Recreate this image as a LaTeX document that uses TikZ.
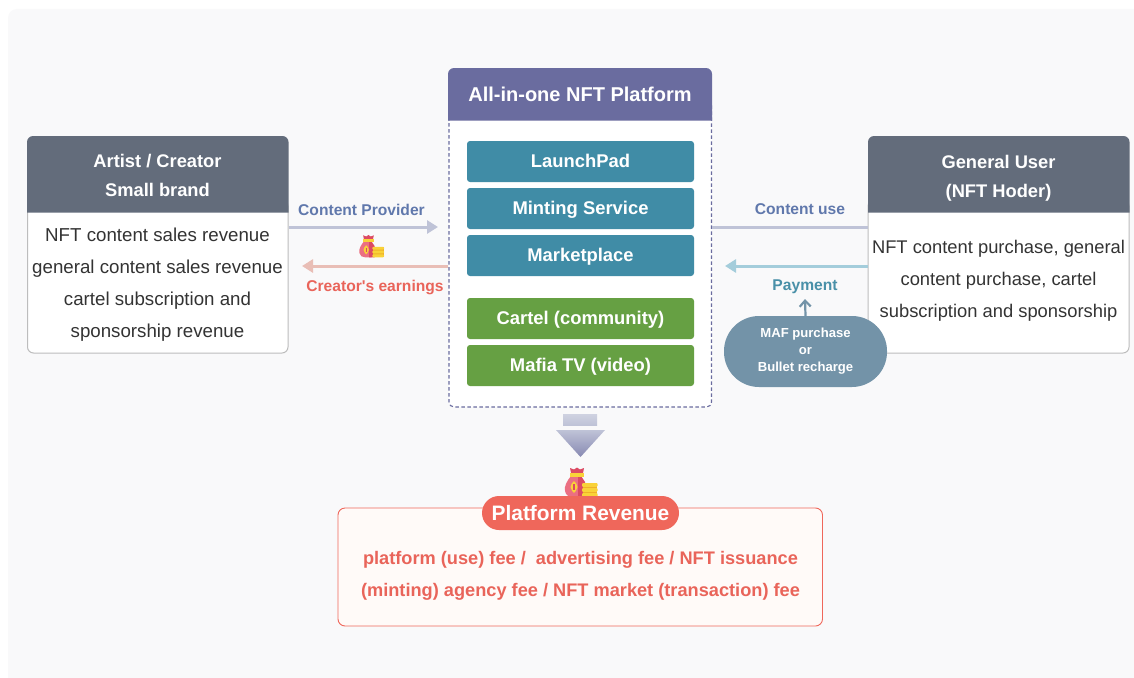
\documentclass[tikz,border=0pt]{standalone}
\usepackage{fontspec}
\setmainfont{Liberation Sans}
\newfontfamily\plainf{Liberation Sans}
\usetikzlibrary{arrows.meta,positioning,calc,shapes.geometric}
\definecolor{bgc}{HTML}{F9F9FA}
\definecolor{headgray}{HTML}{636C7B}
\definecolor{headpurple}{HTML}{6A6C9F}
\definecolor{teal}{HTML}{408CA6}
\definecolor{grn}{HTML}{66A043}
\definecolor{pillc}{HTML}{7393A8}
\definecolor{coral}{HTML}{EF675B}
\definecolor{coraltxt}{HTML}{E9645A}
\definecolor{revfill}{HTML}{FFFAF8}
\definecolor{bluetxt}{HTML}{6078AC}
\definecolor{tealtxt}{HTML}{4990A8}
\definecolor{edge}{HTML}{BDBDBD}
\definecolor{arrowpurple}{HTML}{BFC3D7}
\definecolor{arrowred}{HTML}{E9BEB6}
\definecolor{arrowblue}{HTML}{A4CDDB}
\definecolor{dashc}{HTML}{6A6C9F}
\definecolor{txt}{HTML}{333333}
\definecolor{bagred}{HTML}{EB6F82}
\definecolor{bagdark}{HTML}{DC4A63}
\definecolor{coin}{HTML}{F9D238}
\definecolor{coindark}{HTML}{EFB02A}
\newcommand{\headshape}[5]{\fill[#1] (#2,#5) -- (#2,#3+6) .. controls (#2,#3+2.7) and (#2+2.7,#3) .. (#2+6,#3) -- (#4-6,#3) .. controls (#4-2.7,#3) and (#4,#3+2.7) .. (#4,#3+6) -- (#4,#5) -- cycle;}
\tikzset{
  x=1pt,y=-1pt,
  bodytxt/.style={font=\fontsize{18.7}{32}\selectfont,text=txt,align=center},
  headtxt/.style={font=\fontsize{18.3}{29}\selectfont\bfseries,text=white,align=center},
  modbox/.style={rounded corners=3pt,minimum width=227pt,minimum height=41pt,inner sep=0pt,text=white,text height=12.5pt,text depth=0pt,font=\fontsize{18.4}{20}\selectfont\bfseries},
  tealbox/.style={modbox,fill=teal},
  greenbox/.style={modbox,fill=grn},
  flowlabel/.style={font=\fontsize{15.6}{17}\selectfont\plainf\bfseries,inner sep=0pt},
  thickflow/.style={line width=3pt,-{Triangle[length=11pt,width=13pt]}},
  pics/moneybag/.style={code={
    \fill[bagred] (-10,-6) .. controls (-14,-1) and (-17,4) .. (-16,9) .. controls (-15.5,13) and (-12,15) .. (-8,15) -- (0,15) -- (0,-6) -- cycle;
    \fill[bagdark] (-3,-6) -- (0,-6) -- (4,0) -- (4,15) -- (-3,15) -- cycle;
    \fill[bagdark] (-11,-14) -- (-7,-12.5) -- (-4,-14.5) -- (-1,-12.5) -- (3,-14) -- (2,-9) -- (-10,-9) -- cycle;
    \fill[coin] (-11,-9) rectangle (3,-5.5);
    \fill[coin] (-7,-1) .. controls (-5,0) and (-4,3) .. (-3.5,5) .. controls (-4,8) and (-6,10) .. (-7,11) .. controls (-8,10) and (-10,8) .. (-10.5,5) .. controls (-10,3) and (-9,0) .. (-7,-1) -- cycle;
    \fill[bagdark] (-7.7,2) rectangle (-6.3,8);
    \fill[coindark] (2,1) rectangle (16,15);
    \foreach \cy in {1,6,11} \fill[coin,rounded corners=1pt] (1,\cy) rectangle (16.5,\cy+3.8);
  }}
}
\begin{document}
\begin{tikzpicture}
\useasboundingbox (0,0) rectangle (1134,677);
\fill[white] (0,0) rectangle (1134,677);
\fill[bgc,rounded corners=9pt] (8,9) rectangle (1145,690);

% Left box
\draw[edge,line width=1pt,fill=white,rounded corners=6pt] (27.5,200) rectangle (288,353);
\headshape{headgray}{27}{136}{288.5}{212.5}
\node[headtxt] (lefthead) at (157.5,175.5) {Artist / Creator\\Small brand};
\node[bodytxt] (leftbody) at (157.5,285) {NFT content sales revenue\\general content sales revenue\\cartel subscription and\\sponsorship revenue};
\coordinate (leftbox) at (288.5,227);

% Right box
\draw[edge,line width=1pt,fill=white,rounded corners=6pt] (868,200) rectangle (1129,353);
\headshape{headgray}{868}{136}{1129.5}{212.5}
\node[headtxt] (righthead) at (998.5,178) {General User\\(NFT Hoder)};
\node[bodytxt,font=\fontsize{18.35}{32}\selectfont] (rightbody) at (998.5,281) {NFT content purchase, general\\content purchase, cartel\\subscription and sponsorship};

% Centre
\draw[dashc,fill=white,line width=1.1pt,dash pattern=on 3.5pt off 2.5pt,rounded corners=5pt] (449,100) rectangle (711.5,407);
\headshape{headpurple}{448}{68}{712}{120.5}
\node[headtxt,font=\fontsize{20}{29}\selectfont\bfseries] (centerhead) at (580,94.5) {All-in-one NFT Platform};
\node[tealbox] (launch) at (580.5,161.5) {LaunchPad};
\node[tealbox] (mint) at (580.5,208.5) {Minting Service};
\node[tealbox] (market) at (580.5,255.5) {Marketplace};
\node[greenbox] (cartel) at (580.5,318.5) {Cartel (community)};
\node[greenbox] (mafia) at (580.5,365.5) {Mafia TV (video)};

% Flows
\coordinate (cpEnd) at (438,227);
\coordinate (ceStart) at (448,266);
\coordinate (ceEnd) at (302,266);
\coordinate (cuStart) at (712,227);
\coordinate (cuEnd) at (868,227);
\coordinate (payStart) at (868,266);
\coordinate (payEnd) at (725,266);
\draw[arrowpurple,thickflow] (leftbox) -- (cpEnd);
\draw[arrowred,thickflow] (ceStart) -- (ceEnd);
\draw[arrowpurple,line width=3pt] (cuStart) -- (cuEnd);
\draw[arrowblue,thickflow] (payStart) -- (payEnd);
\node[flowlabel,text=bluetxt] (cplabel) at (361.5,210) {Content Provider};
\node[flowlabel,text=coraltxt] (celabel) at (375,287) {Creator's earnings};
\node[flowlabel,text=bluetxt] (culabel) at (800,209.5) {Content use};
\node[flowlabel,text=tealtxt] (paylabel) at (805,286.5) {Payment};
\pic[scale=0.76] at (371.5,246) {moneybag};

% Pill
\node[fill=pillc,rounded corners=35pt,minimum width=163pt,minimum height=71pt,inner sep=0pt,text=white,align=center,font=\fontsize{13.1}{17}\selectfont\bfseries] (pill) at (805.5,351.5) {MAF purchase\\or\\Bullet recharge};
\coordinate (pillEnd) at (805,299);
\draw[pillc,line width=2.2pt,-{Straight Barb[length=6pt,width=11pt]}] (pill.north) -- (pillEnd);

% Down arrow
\shade[top color=arrowpurple!75!white,bottom color=arrowpurple] (563,414) rectangle (597,425);
\shade[top color=arrowpurple,bottom color=headpurple!80!white] (556,430) -- (605,430) -- (580.5,457) -- cycle;

% Revenue
\draw[coral,fill=revfill,rounded corners=7pt,line width=0.9pt] (338,508) rectangle (822.5,626);
\pic at (581,482) {moneybag};
\node[fill=coral,rounded corners=17pt,minimum width=197pt,minimum height=34pt,inner sep=0pt,text=white,font=\fontsize{20.9}{24}\selectfont\bfseries] (revhead) at (580.5,513) {Platform Revenue};
\node[font=\fontsize{18.2}{32}\selectfont\bfseries,text=coraltxt,align=center] (revtext) at (580.5,576) {platform (use) fee /~ advertising fee / NFT issuance\\(minting) agency fee / NFT market (transaction) fee};
\end{tikzpicture}
\end{document}
